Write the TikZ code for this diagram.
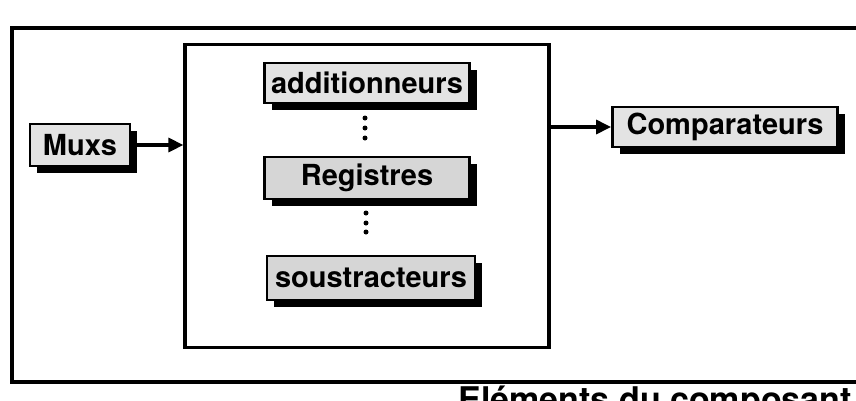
\documentclass[tikz,border=0pt]{standalone}
\usepackage{fontspec}
\setmainfont{TeX Gyre Heros}
\usetikzlibrary{arrows.meta,shadows}
\begin{document}
\begin{tikzpicture}[x=1pt,y=-1pt,
  frame/.style={draw=black,line width=3.2pt},
  unit/.style={draw=black,line width=2.8pt,fill=#1,
    font=\fontsize{29}{31}\selectfont\bfseries,inner sep=0pt,
    drop shadow={shadow xshift=7pt,shadow yshift=-7pt,fill=black,opacity=1}},
  unit/.default=gray!22,
  link/.style={line width=3.2pt,-{Triangle[length=15pt,width=14pt]}},
  dot/.style={fill=black}
]
\clip (0,0) rectangle (856,400);
\fill[white] (0,0) rectangle (856,400);

% outer frame, running past the right edge
\draw[frame] (12,28) rectangle (880,382);

% the component block
\node[frame,minimum width=364pt,minimum height=303pt,inner sep=0pt] (bloc) at (367,196) {};

\node[unit,minimum width=100pt,minimum height=42pt] (muxs) at (80,145) {Muxs};
\node[unit,minimum width=205pt,minimum height=40pt] (add) at (367,83) {additionneurs};
\node[unit=gray!32,minimum width=205pt,minimum height=42pt] (reg) at (367,178) {Registres};
\node[unit=gray!32,minimum width=208pt,minimum height=44pt] (sous) at (371,278) {soustracteurs};
\node[unit,minimum width=225pt,minimum height=40pt] (comp) at (725,127) {Comparateurs};

% vertical ellipses between the units
\foreach \y in {118,128,138} \fill[dot] (365,\y) circle (2.5pt);
\foreach \y in {213,223,232} \fill[dot] (366,\y) circle (2.5pt);

% connections
\draw[link] (muxs.east) -- (bloc.west |- muxs.east);
\draw[link] (bloc.east |- comp.west) -- (comp.west);

% caption below the frame
\node[anchor=base east,font=\fontsize{34}{36}\selectfont\bfseries,inner sep=0pt] (titre) at (852,411) {Eléments du composant};
\end{tikzpicture}
\end{document}
